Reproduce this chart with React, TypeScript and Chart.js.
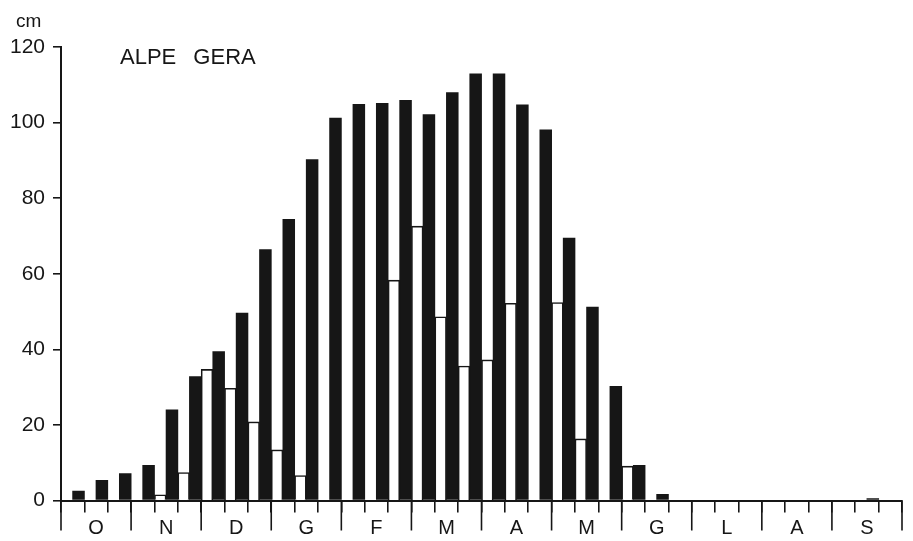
import React, { useEffect, useRef } from "react";
import { Chart, registerables } from "chart.js";

Chart.register(...registerables);

// Months (Italian initials), October to September
const months = ["O", "N", "D", "G", "F", "M", "A", "M", "G", "L", "A", "S"];
const decadeNames = ["I", "II", "III"];
const decadeLabels = months.flatMap((m, mi) => decadeNames.map((d) => `${m}${mi} ${d}`));

// Snow depth (cm) per ten-day period, black bars
const blackDepth = [
  2.6, 5.4, 7.2,
  9.4, 24.1, 32.9,
  39.5, 49.7, 66.5,
  74.5, 90.3, 101.3,
  104.9, 105.2, 106,
  102.2, 108, 113,
  113, 104.8, 98.2,
  69.5, 51.3, 30.3,
  9.4, 1.7, null,
  null, null, null,
  null, null, null,
  null, 0.6, null,
];

// Second series (cm), white outlined bars
const whiteDepth = [
  null, null, null,
  null, 1.5, 7.4,
  34.7, 29.7, 20.8,
  13.4, 6.6, null,
  null, null, 58.3,
  72.6, 48.6, 35.6,
  37.2, 52.2, null,
  52.4, 16.3, null,
  9.1, null, null,
  null, null, null,
  null, null, null,
  null, null, null,
];

const yTicks = [0, 20, 40, 60, 80, 100, 120];
const title = "ALPE GERA";
const unit = "cm";

const INK = "#161616";
const FONT = "'Liberation Sans', Arial, sans-serif";

const extrasPlugin = {
  id: "extras",
  afterDraw(chart: any) {
    const ctx = chart.ctx;
    const x = chart.scales.x;
    const step = x.getPixelForValue(1) - x.getPixelForValue(0);
    ctx.save();
    ctx.strokeStyle = INK;
    ctx.lineWidth = 1.6;
    for (let k = 0; k <= months.length; k++) {
      const px = x.getPixelForValue(k * 3) - step / 2;
      ctx.beginPath();
      ctx.moveTo(px, x.top);
      ctx.lineTo(px, x.top + 30);
      ctx.stroke();
    }
    ctx.fillStyle = INK;
    ctx.textBaseline = "alphabetic";
    ctx.textAlign = "left";
    ctx.font = `22px ${FONT}`;
    (ctx as any).wordSpacing = "11px";
    ctx.fillText(title, 120, 63.5);
    (ctx as any).wordSpacing = "0px";
    ctx.font = `19px ${FONT}`;
    ctx.fillText(unit, 16, 27);
    ctx.restore();
  },
};

export default function App() {
  const ref = useRef<HTMLCanvasElement | null>(null);
  useEffect(() => {
    if (!ref.current) return;
    const chart = new Chart(ref.current, {
      type: "bar",
      data: {
        labels: decadeLabels,
        datasets: [
          {
            label: "white",
            data: whiteDepth as any,
            backgroundColor: "#ffffff",
            borderColor: INK,
            borderWidth: { top: 1.6, left: 1.6, right: 1.6, bottom: 0 } as any,
            borderSkipped: "bottom",
            barPercentage: 1,
            categoryPercentage: 1,
          },
          {
            label: "black",
            data: blackDepth as any,
            backgroundColor: INK,
            borderWidth: 0,
            barPercentage: 1.07,
            categoryPercentage: 1,
          },
        ],
      },
      options: {
        responsive: false,
        animation: false,
        layout: { padding: { top: 47, right: 11, left: 0, bottom: 0 } },
        plugins: { legend: { display: false }, tooltip: { enabled: false }, title: { display: false } },
        scales: {
          x: {
            type: "category",
            offset: true,
            grid: {
              offset: true,
              drawOnChartArea: false,
              drawTicks: true,
              tickLength: 12,
              color: INK,
              lineWidth: 1.6,
            },
            border: { display: true, color: INK, width: 2 },
            ticks: {
              autoSkip: false,
              maxRotation: 0,
              minRotation: 0,
              padding: 4,
              color: INK,
              font: { family: FONT, size: 20 },
              callback: (_v: any, i: number) => (i % 3 === 1 ? months[Math.floor(i / 3)] : ""),
            },
            afterFit: (s: any) => {
              s.height = 40.5;
            },
          },
          y: {
            min: 0,
            max: 120,
            afterBuildTicks: (s: any) => {
              s.ticks = yTicks.map((v) => ({ value: v }));
            },
            grid: { drawOnChartArea: false, drawTicks: true, tickLength: 8, color: INK, lineWidth: 1.6 },
            border: { display: true, color: INK, width: 2 },
            ticks: { color: INK, padding: 8, font: { family: FONT, size: 21 } },
            afterFit: (s: any) => {
              s.width = 61;
            },
          },
        },
      },
      plugins: [extrasPlugin],
    });
    return () => chart.destroy();
  }, []);
  return (
    <div style={{ position: "absolute", left: 0, top: 0, width: 913, height: 541, background: "#fff" }}>
      <canvas ref={ref} width={913} height={541} style={{ display: "block" }} />
    </div>
  );
}
